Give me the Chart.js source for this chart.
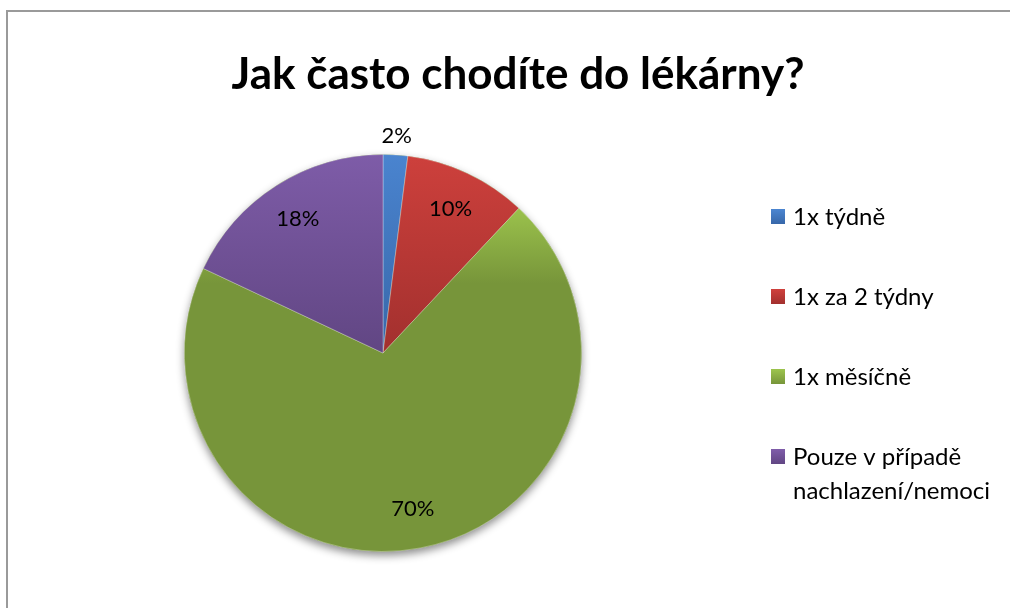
<!DOCTYPE html>
<html>
<head>
<meta charset="utf-8">
<script src="https://cdn.jsdelivr.net/npm/chart.js@4.4.0/dist/chart.umd.min.js"></script>
<style>
  html, body { margin: 0; padding: 0; background: #fff; }
  canvas { display: block; }
</style>
</head>
<body>
<canvas id="pharmacyPie" width="1010" height="608"></canvas>
<script>
const chartTitle = 'Jak často chodíte do lékárny?';
const categories = ['1x týdně', '1x za 2 týdny', '1x měsíčně', 'Pouze v případě nachlazení/nemoci'];
const shares = [2, 10, 70, 18];

// slice gradients: colour at the top of each slice, colour at the bottom,
// and where along the slice height the bottom colour is reached
const topColors = ['#4a84cf', '#cd403c', '#9bc24c', '#7e5ca8'];
const bottomColors = ['#3767a9', '#a2302e', '#77953a', '#614683'];
const fadeEnd = [1, 1, 0.22, 1];

const FONT = 'Lato, "Open Sans", sans-serif';

// vertical extent of slice i, worked out from the cumulative shares
function sliceExtent(chart, i) {
    const area = chart.chartArea;
    const cx = (area.left + area.right) / 2;
    const cy = (area.top + area.bottom) / 2;
    const r = Math.min(area.width, area.height) / 2;
    const total = shares.reduce((a, b) => a + b, 0);
    let before = 0;
    for (let k = 0; k < i; k++) before += shares[k];
    const a0 = before / total * 2 * Math.PI - Math.PI / 2;
    const a1 = (before + shares[i]) / total * 2 * Math.PI - Math.PI / 2;
    let top = cy, bottom = cy;
    for (let s = 0; s <= 64; s++) {
        const y = cy + r * Math.sin(a0 + (a1 - a0) * s / 64);
        top = Math.min(top, y);
        bottom = Math.max(bottom, y);
    }
    return { top, bottom };
}

function sliceFill(context) {
    const chart = context.chart;
    const i = context.dataIndex;
    if (i === undefined) return '#888';
    if (!chart.chartArea) return bottomColors[i];
    const ext = sliceExtent(chart, i);
    const g = chart.ctx.createLinearGradient(0, ext.top, 0, ext.bottom);
    g.addColorStop(0, topColors[i]);
    g.addColorStop(fadeEnd[i], bottomColors[i]);
    g.addColorStop(1, bottomColors[i]);
    return g;
}

// white page with the grey frame line along the top and left
const framePlugin = {
    id: 'frame',
    beforeDraw(chart) {
        const ctx = chart.ctx;
        ctx.save();
        ctx.fillStyle = '#fff';
        ctx.fillRect(0, 0, chart.width, chart.height);
        ctx.strokeStyle = '#9a9a9a';
        ctx.lineWidth = 2;
        ctx.beginPath();
        ctx.moveTo(7, chart.height);
        ctx.lineTo(7, 11);
        ctx.lineTo(chart.width + 2, 11);
        ctx.stroke();
        ctx.restore();
    }
};

// soft drop shadow under the whole pie
const shadowPlugin = {
    id: 'pieShadow',
    beforeDatasetsDraw(chart) {
        const arc = chart.getDatasetMeta(0).data[0];
        if (!arc) return;
        const ctx = chart.ctx;
        ctx.save();
        ctx.shadowColor = 'rgba(0,0,0,0.45)';
        ctx.shadowBlur = 9;
        ctx.shadowOffsetY = 4;
        ctx.fillStyle = bottomColors[2];
        ctx.beginPath();
        ctx.arc(arc.x, arc.y, arc.outerRadius, 0, 2 * Math.PI);
        ctx.fill();
        ctx.restore();
    }
};

// percentage labels, small slices go outside the rim
const labelPlugin = {
    id: 'sliceLabels',
    afterDatasetsDraw(chart) {
        const ctx = chart.ctx;
        const total = shares.reduce((a, b) => a + b, 0);
        ctx.save();
        ctx.font = '22px ' + FONT;
        ctx.fillStyle = '#000';
        ctx.textAlign = 'center';
        ctx.textBaseline = 'middle';
        chart.getDatasetMeta(0).data.forEach((arc, i) => {
            const mid = (arc.startAngle + arc.endAngle) / 2;
            const pct = shares[i] / total * 100;
            const r = pct < 5 ? arc.outerRadius + 19 : arc.outerRadius * 0.8;
            ctx.fillText(Math.round(pct) + '%', arc.x + Math.cos(mid) * r, arc.y + Math.sin(mid) * r);
        });
        ctx.restore();
    }
};

function wrapText(ctx, text, maxWidth) {
    const words = text.split(' ');
    const lines = [];
    let line = '';
    words.forEach(w => {
        const test = line ? line + ' ' + w : w;
        if (line && ctx.measureText(test).width > maxWidth) {
            lines.push(line);
            line = w;
        } else {
            line = test;
        }
    });
    if (line) lines.push(line);
    return lines;
}

// title and the legend on the right
const textPlugin = {
    id: 'titleLegend',
    afterDraw(chart) {
        const ctx = chart.ctx;
        ctx.save();
        ctx.fillStyle = '#000';
        ctx.font = 'bold 44px ' + FONT;
        ctx.textAlign = 'center';
        ctx.textBaseline = 'alphabetic';
        ctx.fillText(chartTitle, 518, 89);

        ctx.font = '24px ' + FONT;
        ctx.textAlign = 'left';
        ctx.textBaseline = 'middle';
        categories.forEach((name, i) => {
            const cy = 217 + i * 80;
            const g = ctx.createLinearGradient(0, cy - 7, 0, cy + 7);
            g.addColorStop(0, topColors[i]);
            g.addColorStop(1, bottomColors[i]);
            ctx.fillStyle = g;
            ctx.fillRect(771, cy - 8, 14, 15);
            ctx.fillStyle = '#000';
            wrapText(ctx, name, 212).forEach((ln, j) => {
                ctx.fillText(ln, 793, cy + j * 34);
            });
        });
        ctx.restore();
    }
};

new Chart(document.getElementById('pharmacyPie'), {
    type: 'pie',
    data: {
        labels: categories,
        datasets: [{
            data: shares,
            backgroundColor: sliceFill,
            borderColor: 'rgba(255,255,255,0.3)',
            borderWidth: 1
        }]
    },
    options: {
        responsive: false,
        animation: false,
        layout: {
            padding: { top: 154, bottom: 56, left: 184, right: 428 }
        },
        plugins: {
            legend: { display: false },
            title: { display: false },
            tooltip: { enabled: false }
        }
    },
    plugins: [framePlugin, shadowPlugin, labelPlugin, textPlugin]
});
</script>
</body>
</html>
